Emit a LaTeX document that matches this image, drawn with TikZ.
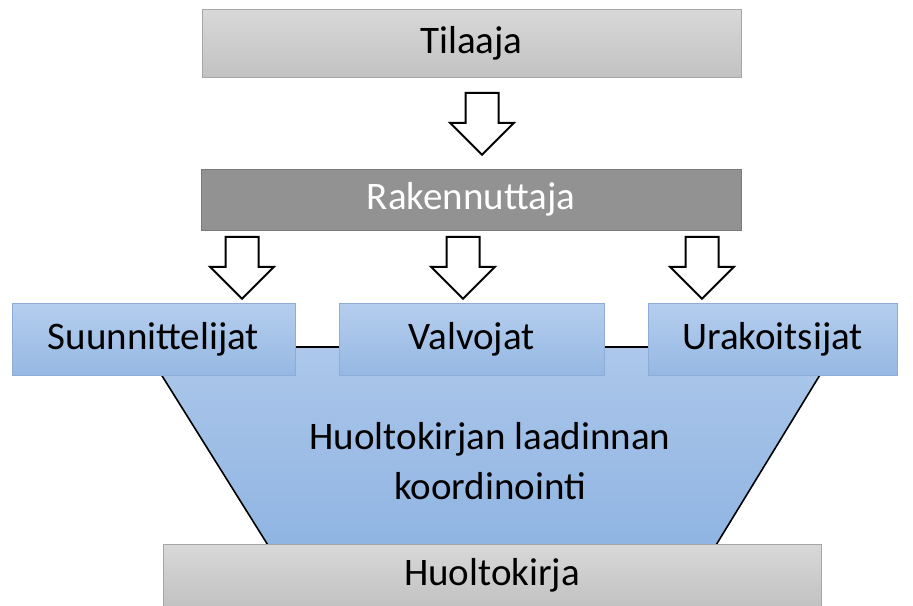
\documentclass[tikz,border=0pt]{standalone}
\usepackage{fontspec}
\setmainfont{Carlito}
\usetikzlibrary{shapes.arrows}
\definecolor{graytop}{HTML}{D8D8D8}
\definecolor{graybot}{HTML}{C2C2C2}
\definecolor{grayedge}{HTML}{A6A6A6}
\definecolor{darkfill}{HTML}{929292}
\definecolor{darkedge}{HTML}{7A7A7A}
\definecolor{bluetop}{HTML}{B5CEEE}
\definecolor{bluebot}{HTML}{96B8E3}
\definecolor{blueedge}{HTML}{8DADD7}
\definecolor{funneltop}{HTML}{ACC7EA}
\definecolor{funnelbot}{HTML}{8FB4E2}
\begin{document}
\begin{tikzpicture}[x=0.5pt, y=-0.5pt,
  lbl/.style={font=\fontsize{19.5}{25}\selectfont},
  graybox/.style={lbl, draw=grayedge, line width=0.5pt, top color=graytop, bottom color=graybot, inner sep=0pt},
  darkbox/.style={lbl, draw=darkedge, line width=0.5pt, fill=darkfill, text=white, inner sep=0pt},
  bluebox/.style={lbl, draw=blueedge, line width=0.5pt, top color=bluetop, bottom color=bluebot, inner sep=0pt, minimum height=36pt},
  hollow/.style={draw, line width=1pt, fill=white, single arrow, single arrow head extend=7.75pt, inner xsep=0pt, inner ysep=7.75pt, minimum height=31pt, rotate=-90}]
\useasboundingbox (0,0) rectangle (913,605);
\shade[top color=funneltop, bottom color=funnelbot] (144,347) -- (837,347) -- (713,550) -- (271,550) -- cycle;
\draw[line width=0.8pt] (144,347) -- (271,550);
\draw[line width=0.8pt] (837,347) -- (713,550);
\node[lbl, align=center] (koord) at (490,461) {Huoltokirjan laadinnan\\koordinointi};
\node[graybox, minimum width=269.5pt, minimum height=34pt] (tilaaja) at (471.5,43) {Tilaaja};
\node[darkbox, minimum width=270pt, minimum height=30.5pt] (raken) at (471,199.5) {Rakennuttaja};
\node[bluebox, minimum width=141.5pt] (suun) at (153.5,339) {Suunnittelijat};
\node[bluebox, minimum width=132.5pt] (valv) at (471.5,339) {Valvojat};
\node[bluebox, minimum width=124.5pt] (urak) at (772.5,339) {Urakoitsijat};
\node[graybox, minimum width=329pt, minimum height=31pt] (huolto) at (492,575) {Huoltokirja};
\draw[line width=0.8pt] ([yshift=-4pt]suun.east) -- ([yshift=-4pt]valv.west);
\draw[line width=0.8pt] ([yshift=-4pt]valv.east) -- ([yshift=-4pt]urak.west);
\node[hollow] (a1) at (482,115.5) {};
\node[hollow] (a2) at (242,259.5) {};
\node[hollow] (a3) at (463,259.5) {};
\node[hollow] (a4) at (702,259.5) {};
\end{tikzpicture}
\end{document}
